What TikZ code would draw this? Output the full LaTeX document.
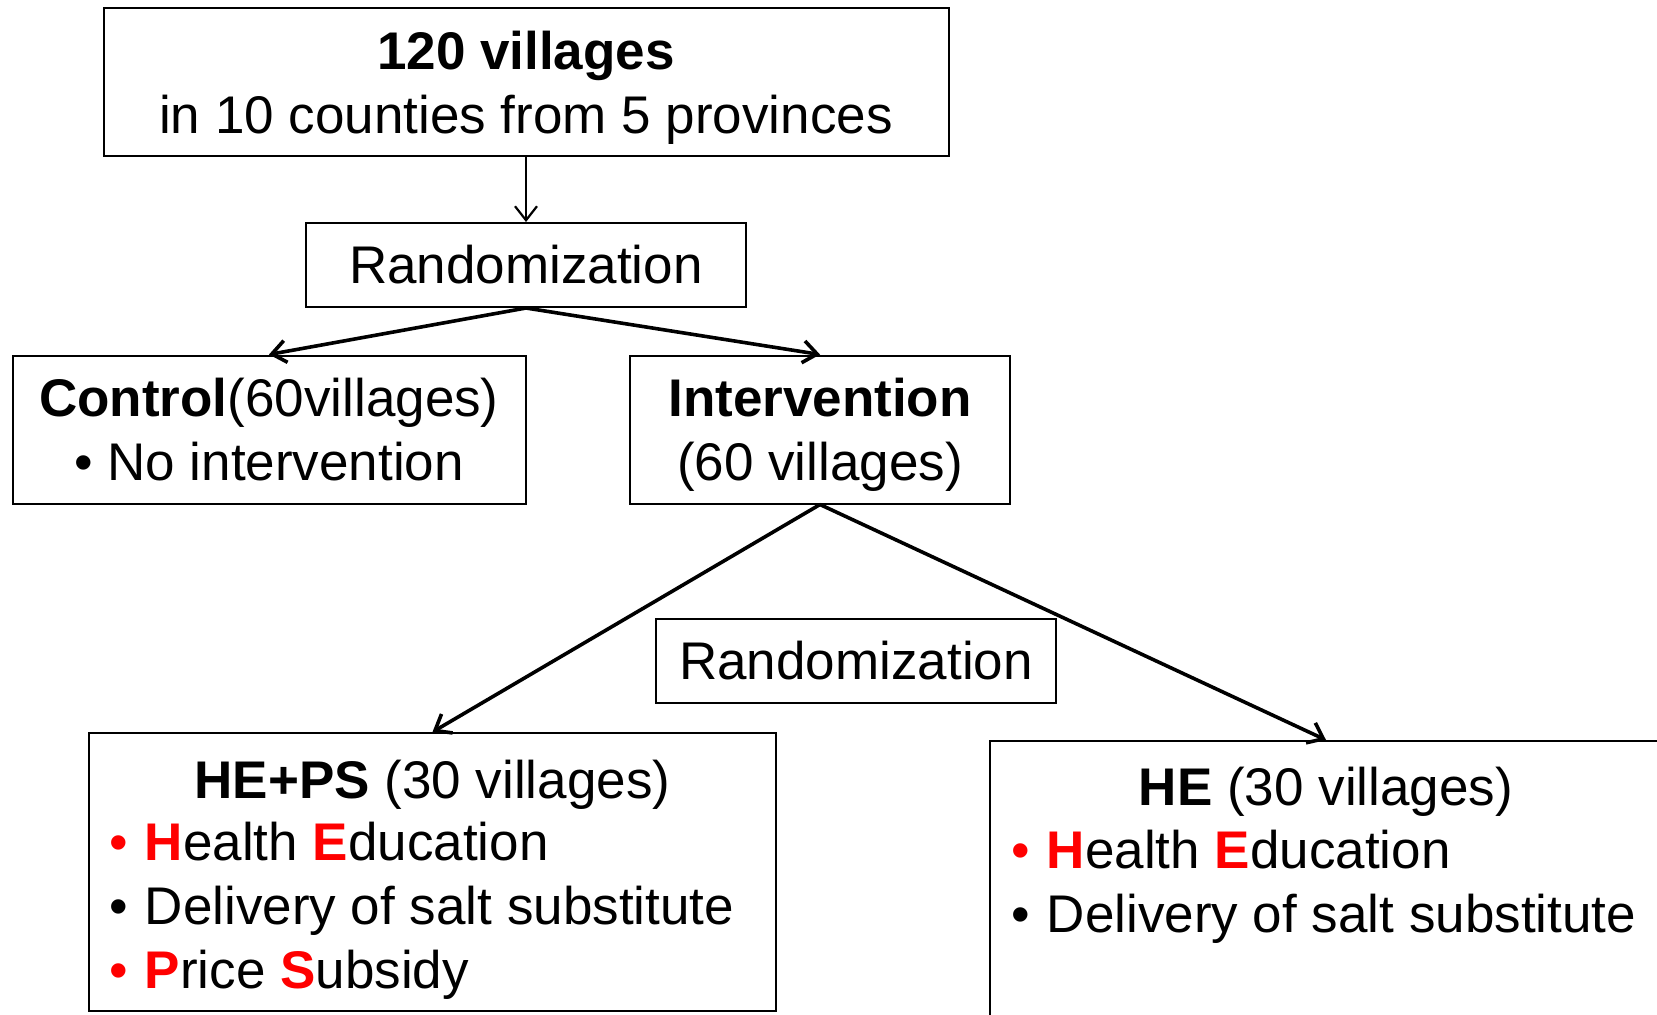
\documentclass[tikz,border=0pt]{standalone}
\usepackage{fontspec}
\setmainfont{Liberation Sans}
\usepackage{xcolor}
\usepackage{tikz}
\usetikzlibrary{arrows.meta, positioning}

\newcommand{\redb}[1]{\textcolor{red}{\textbf{#1}}}
\newcommand{\redbullet}{\textcolor{red}{•}\hspace{0.32em}}
\newcommand{\blackbullet}{•\hspace{0.32em}}

\begin{document}
\begin{tikzpicture}[
        x=0.5pt, y=-0.5pt,
        font=\fontsize{26.5}{32}\selectfont,
        >={Straight Barb[length=7pt,width=11pt]},
        box/.style={rectangle, draw, line width=1pt, inner sep=0pt, align=center},
        label text/.style={inner sep=0pt, align=center, anchor=base},
        list text/.style={inner sep=0pt, align=left, anchor=base west},
        arrow/.style={->, line width=1.8pt}
    ]
    \useasboundingbox (0,0) rectangle (1657,1014);

    % Villages and first randomization
    \node[box, minimum width=422.5pt, minimum height=74pt] (villages) at (526,82) {};
    \node[label text] (villages_text) at (526,133.3)
        {\textbf{120 villages}\\in 10 counties from 5 provinces};
    \node[box, minimum width=220pt, minimum height=42pt] (rand_one) at (526,265) {Randomization};

    % Control and intervention arms
    \node[box, minimum width=256.5pt, minimum height=74pt] (control) at (269,429.5) {};
    \node[label text] (control_text) at (269,480)
        {\textbf{Control}(60villages)\\• No intervention};
    \node[box, minimum width=190pt, minimum height=74pt] (intervention) at (820,429.5) {};
    \node[label text] (intervention_text) at (820,480)
        {\textbf{Intervention}\\(60 villages)};

    % Second randomization
    \node[box, minimum width=200pt, minimum height=42pt] (rand_two) at (856,661) {Randomization};

    % HE+PS arm
    \node[box, minimum width=343.5pt, minimum height=139pt] (he_ps) at (432.5,872) {};
    \node[label text] (he_ps_title) at (432.5,798) {\textbf{HE+PS} (30 villages)};
    \node[list text] (he_ps_list) at (109,988)
        {\redbullet\redb{H}ealth \redb{E}ducation\\
         \blackbullet Delivery of salt substitute\\
         \redbullet\redb{P}rice \redb{S}ubsidy};

    % HE arm
    \node[box, minimum width=336pt, minimum height=150pt] (he) at (1326,891) {};
    \node[label text] (he_title) at (1326,805) {\textbf{HE} (30 villages)};
    \node[list text] (he_list) at (1011,932)
        {\redbullet\redb{H}ealth \redb{E}ducation\\
         \blackbullet Delivery of salt substitute};

    \draw[arrow, line width=1.1pt] (villages) -- (rand_one);
    \draw[arrow] (rand_one.south) -- (control.north);
    \draw[arrow] (rand_one.south) -- (intervention.north);
    \draw[arrow] (intervention.south) -- (he_ps.north);
    \draw[arrow] (intervention.south) -- (he.north);
\end{tikzpicture}
\end{document}
